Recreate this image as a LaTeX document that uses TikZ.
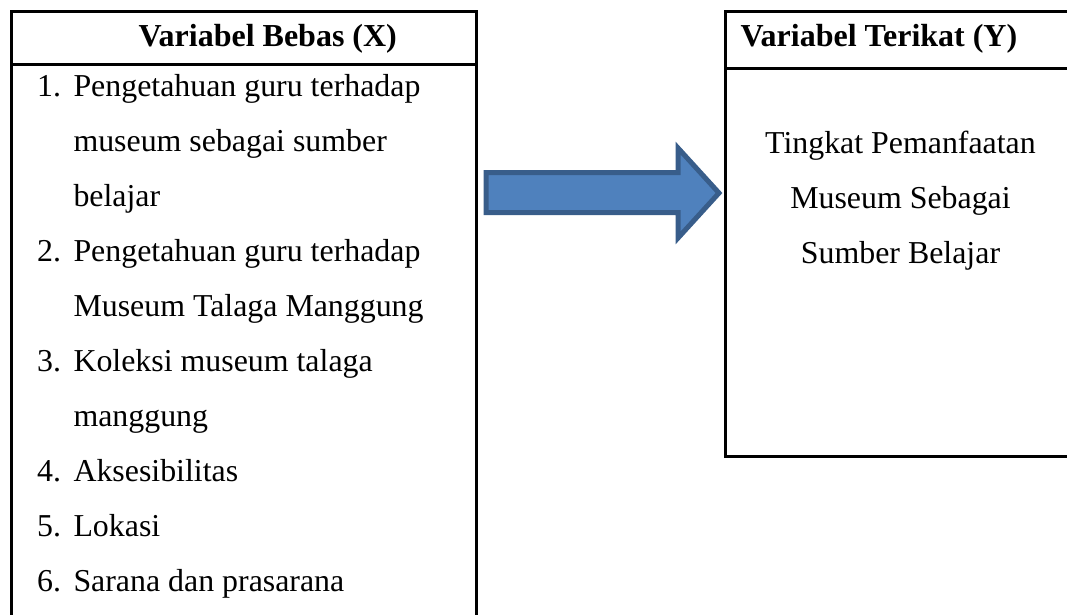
\documentclass[tikz,border=0pt]{standalone}
\usepackage{fontspec}
\setmainfont{Liberation Serif}

\definecolor{arrowfill}{HTML}{4F81BD}
\definecolor{arrowline}{HTML}{385D8A}

\tikzset{
  box/.style={draw, line width=1.2pt},
  item/.style={anchor=base west, inner sep=0pt, font=\fontsize{12.75}{15}\selectfont},
  mid/.style={anchor=base, inner sep=0pt, font=\fontsize{12.75}{15}\selectfont},
  head/.style={anchor=base west, inner sep=0pt, font=\fontsize{12.8}{15}\selectfont\bfseries}
}

\begin{document}
\begin{tikzpicture}[x=0.4pt,y=-0.4pt]

        \useasboundingbox (0,0) rectangle (1067,614);
        \clip (0,0) rectangle (1067,614);

        % kotak kiri
        \draw[box] (11,640) -- (11,11) -- (476,11) -- (476,640);
        \draw[box] (11,64) -- (476,64);
        % kotak kanan
        \draw[box] (1090,11) -- (725,11) -- (725,456) -- (1090,456);
        \draw[box] (725,68) -- (1090,68);

        \node[head] (hx) at (138,46.7) {Variabel Bebas (X)};
        \node[head] (hy) at (740,46.7) {Variabel Terikat (Y)};

        \begin{scope}[every node/.style={item}]
          \node (n1)  at (36.7,96.7)  {1.};
          \node (t1)  at (73,96.7)    {Pengetahuan guru terhadap};
          \node (t1b) at (73,151.7)   {museum sebagai sumber};
          \node (t1c) at (73,206.7)   {belajar};
          \node (n2)  at (36.7,261.7) {2.};
          \node (t2)  at (73,261.7)   {Pengetahuan guru terhadap};
          \node (t2b) at (73,316.7)   {Museum Talaga Manggung};
          \node (n3)  at (36.7,371.7) {3.};
          \node (t3)  at (73,371.7)   {Koleksi museum talaga};
          \node (t3b) at (73,426.7)   {manggung};
          \node (n4)  at (36.7,481.7) {4.};
          \node (t4)  at (73,481.7)   {Aksesibilitas};
          \node (n5)  at (36.7,536.7) {5.};
          \node (t5)  at (73,536.7)   {Lokasi};
          \node (n6)  at (36.7,591.7) {6.};
          \node (t6)  at (73,591.7)   {Sarana dan prasarana};
        \end{scope}

        \node[mid] (y1) at (900.5,153) {Tingkat Pemanfaatan};
        \node[mid] (y2) at (900.5,208) {Museum Sebagai};
        \node[mid] (y3) at (900.5,263) {Sumber Belajar};

        % panah
        \draw[fill=arrowfill, draw=arrowline, line width=2pt, line join=miter]
          (486,172.5) -- (678,172.5) -- (678,148) -- (719,193)
          -- (678,238) -- (678,212.5) -- (486,212.5) -- cycle;

      \end{tikzpicture}
\end{document}
